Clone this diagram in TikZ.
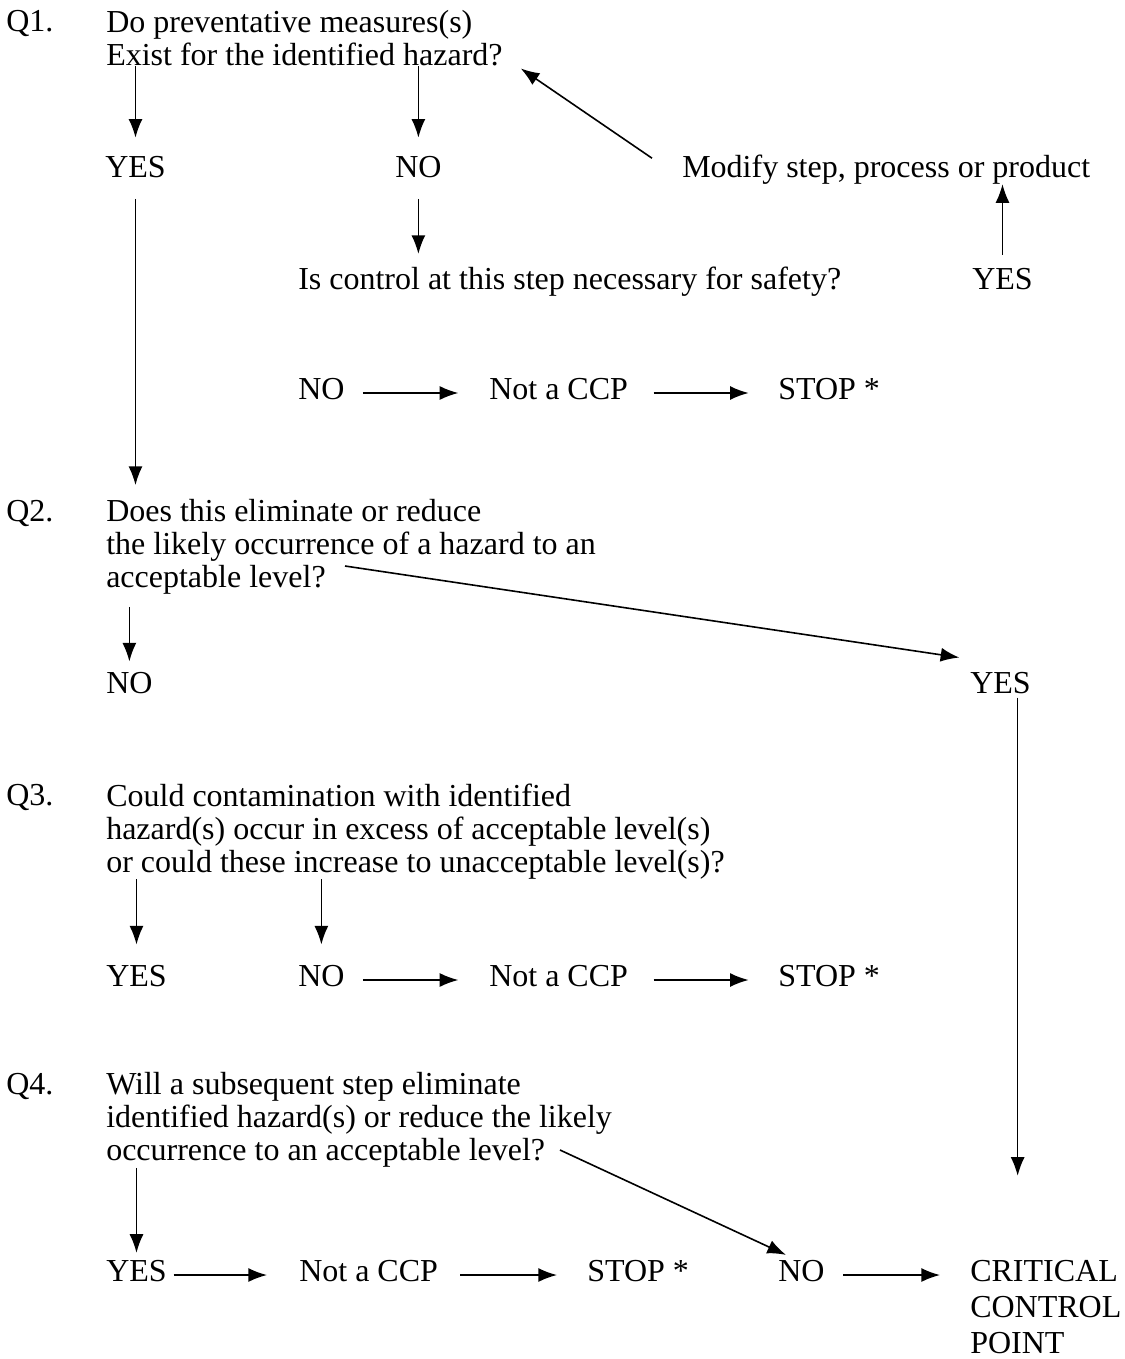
\documentclass[tikz,border=0pt]{standalone}
\usepackage{fontspec}
\setmainfont{Liberation Serif}
\usetikzlibrary{arrows.meta}

\begin{document}
\begin{tikzpicture}[x=0.75pt, y=-0.75pt]
    \tikzset{answer/.style={inner sep=0pt, anchor=base west, font=\fontsize{24}{24.75}\selectfont},
             question/.style={answer, anchor=north west, align=left},
             flow/.style={-{Latex[length=14pt,width=10.5pt]}, line width=1.2pt}}
    \useasboundingbox (0,0) rectangle (1124,1359);

    % Q1
    \node[answer]   (q1lab)  at (6,32)     {Q1.};
    \node[question] (q1)     at (106,10.3) {Do preventative measures(s)\\Exist for the identified hazard?};
    \node[answer]   (yesA)   at (105,177)  {YES};
    \node[answer]   (noA)    at (395,177)  {NO};
    \node[answer]   (modify) at (682,177)  {Modify step, process or product};
    \node[answer]   (safety) at (298,289)  {Is control at this step necessary for safety?};
    \node[answer]   (yesB)   at (972,289)  {YES};
    \node[answer]   (noB)    at (298,399)  {NO};
    \node[answer]   (ccpA)   at (489,399)  {Not a CCP};
    \node[answer]   (stopA)  at (778,399)  {STOP *};

    % Q2
    \node[answer]   (q2lab)  at (6,521)     {Q2.};
    \node[question] (q2)     at (106,499.3) {Does this eliminate or reduce\\the likely occurrence of a hazard to an\\acceptable level?};
    \coordinate     (q2end)  at (345,566);
    \node[answer]   (noC)    at (106,693)   {NO};
    \node[answer]   (yesC)   at (970,693)   {YES};

    % Q3
    \node[answer]   (q3lab)  at (6,805)     {Q3.};
    \node[question] (q3)     at (106,783.3) {Could contamination with identified\\hazard(s) occur in excess of acceptable level(s)\\or could these increase to unacceptable level(s)?};
    \node[answer]   (yesD)   at (106,986)   {YES};
    \node[answer]   (noD)    at (298,986)   {NO};
    \node[answer]   (ccpB)   at (489,986)   {Not a CCP};
    \node[answer]   (stopB)  at (778,986)   {STOP *};

    % Q4
    \node[answer]   (q4lab)  at (6,1094)     {Q4.};
    \node[question] (q4)     at (106,1072.3) {Will a subsequent step eliminate\\identified hazard(s) or reduce the likely\\occurrence to an acceptable level?};
    \coordinate     (q4end)  at (560,1150);
    \node[answer]   (yesE)   at (106,1281)   {YES};
    \node[answer]   (ccpC)   at (299,1281)   {Not a CCP};
    \node[answer]   (stopC)  at (587,1281)   {STOP *};
    \node[answer]   (noE)    at (778,1281)   {NO};
    \node[question, font=\fontsize{24}{27}\selectfont] (ccp) at (970,1259.8) {CRITICAL\\CONTROL\\POINT};

    % Q1 answers
    \draw[flow, shorten >=13.4pt] (q1.south -| yesA.north) -- (yesA.north);
    \draw[flow, shorten >=13.4pt] (q1.south -| noA.north) -- (noA.north);
    \draw[flow] ([xshift=-22.5pt, yshift=-3pt]modify.north west) -- ([xshift=13.5pt, yshift=-1.5pt]q1.south east);
    \draw[flow, shorten <=16pt, shorten >=9.2pt] (noA.south) -- (noA.south |- safety.north);
    \draw[flow, shorten <=9.6pt] (yesB.north) -- (yesB.north |- modify.south);
    \draw[flow, shorten <=13.5pt, shorten >=23pt] ([yshift=4.5pt]noB.base east) -- ([yshift=4.5pt]ccpA.base west);
    \draw[flow, shorten <=19pt, shorten >=22pt] ([yshift=4.5pt]ccpA.base east) -- ([yshift=4.5pt]stopA.base west);
    \draw[flow, shorten <=16pt, shorten >=10.7pt] (yesA.south) -- (yesA.south |- q2.north);

    % Q2 answers
    \draw[flow] (q2end) -- ([xshift=-8pt, yshift=10.5pt]yesC.north west);
    \draw[flow, shorten <=9pt, shorten >=7.5pt] (q2.south -| noC.north) -- (noC.north);
    \draw[flow, shorten <=3pt, shorten >=63pt] ([xshift=-10pt]yesC.south east) -- ([xshift=-10pt]yesC.south east |- ccp.north);

    % Q3 answers
    \draw[flow, shorten >=15pt] (q3.south -| yesD.north) -- (yesD.north);
    \draw[flow, shorten >=15pt] (q3.south -| noD.north) -- (noD.north);
    \draw[flow, shorten <=13.5pt, shorten >=23pt] ([yshift=4.5pt]noD.base east) -- ([yshift=4.5pt]ccpB.base west);
    \draw[flow, shorten <=19pt, shorten >=22pt] ([yshift=4.5pt]ccpB.base east) -- ([yshift=4.5pt]stopB.base west);

    % Q4 answers
    \draw[flow, shorten >=5pt] (q4.south -| yesE.north) -- (yesE.north);
    \draw[flow] (q4end) -- ([xshift=6pt, yshift=3.5pt]noE.north west);
    \draw[flow, shorten <=5pt, shorten >=24pt] ([yshift=4.5pt]yesE.base east) -- ([yshift=4.5pt]ccpC.base west);
    \draw[flow, shorten <=16.5pt, shorten >=22.5pt] ([yshift=4.5pt]ccpC.base east) -- ([yshift=4.5pt]stopC.base west);
    \draw[flow, shorten <=14pt, shorten >=22.5pt] ([yshift=4.5pt]noE.base east) -- ([yshift=4.5pt]noE.base east -| ccp.west);
\end{tikzpicture}
\end{document}
